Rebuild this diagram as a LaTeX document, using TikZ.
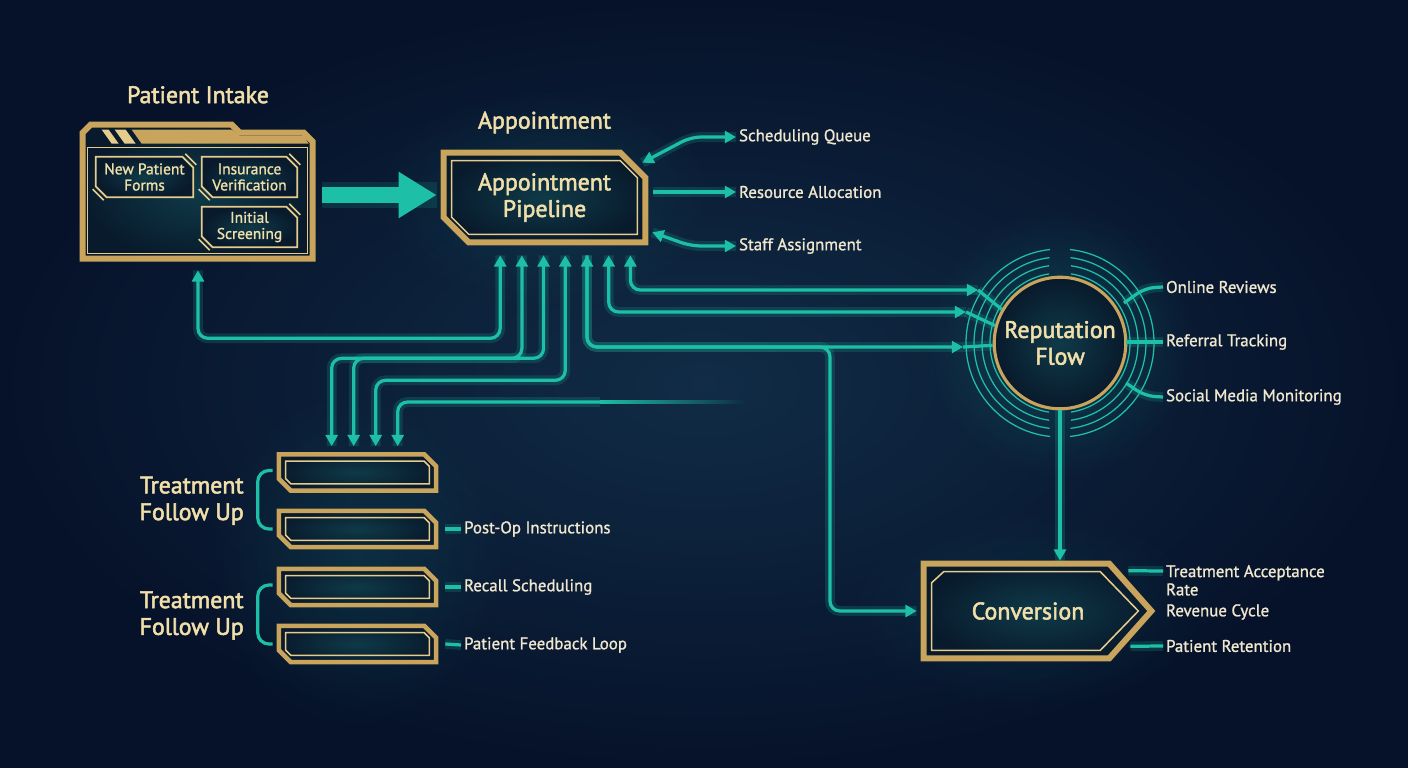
\documentclass[tikz,border=0pt]{standalone}
\usepackage{fontspec}
\setmainfont{PT Sans}
\newfontfamily\headfont{PT Sans}[FakeBold=2.2]
\newfontfamily\labelfont{PT Sans}[FakeBold=1.2]
\usetikzlibrary{positioning,calc,arrows.meta,backgrounds,fadings}

\definecolor{bgin}{HTML}{112C46}
\definecolor{bgout}{HTML}{06122A}
\definecolor{wireteal}{HTML}{1DBFA6}
\definecolor{gold}{HTML}{C9A45C}
\definecolor{goldlt}{HTML}{E6CC8C}
\definecolor{panelin}{HTML}{0F3A48}
\definecolor{panelout}{HTML}{081A2C}
\definecolor{cream}{HTML}{F1DFAA}
\definecolor{labelc}{HTML}{F0E7CF}

\tikzfading[name=glowfade, inner color=transparent!0, outer color=transparent!100]

% chamfered outline round a node: node, chamfer, inset (px)
\newcommand{\chamferpath}[3]{([shift={(#3,#3)}]#1.north west) -- ([shift={(-#2,#3)}]#1.north east) -- ([shift={(-#3,#2)}]#1.north east) -- ([shift={(-#3,-#3)}]#1.south east) -- ([shift={(#2,-#3)}]#1.south west) -- ([shift={(#3,-#2)}]#1.south west) -- cycle}
% gold double frame: node, chamfer, frame width, inner inset (px)
\newcommand{\goldbox}[4]{%
  \shade[panel] \chamferpath{#1}{#2}{0};
  \draw[goldline, line width=#3*0.7113pt] \chamferpath{#1}{#2}{#3/2};
  \draw[goldthin] \chamferpath{#1}{#2}{#4};
}

\tikzset{
  wire/.style    ={draw=wireteal, line width=2.3pt, rounded corners=7pt,
                   preaction={draw=wireteal, line width=7pt, opacity=0.18, arrows=-}},
  fadewire/.style={draw=wireteal, line width=2.3pt},
  bigarrow/.style={draw=wireteal, line width=11pt, -{Triangle[length=27pt,width=31pt]},
                   preaction={draw=wireteal, line width=18pt, opacity=0.15, arrows=-}},
  bracket/.style ={draw=wireteal, line width=2.3pt, rounded corners=8pt},
  ring/.style    ={draw=wireteal, line width=0.9pt},
  goldline/.style={draw=gold},
  goldthin/.style={draw=goldlt, line width=1.1pt},
  panel/.style   ={inner color=panelin, outer color=panelout},
  panelnode/.style={rectangle, inner sep=0pt, align=center, text=cream, font=\headfont\fontsize{17}{19}\selectfont},
  smallnode/.style={rectangle, inner sep=0pt, align=center, text=cream, font=\labelfont\fontsize{11}{11.5}\selectfont},
  ttl/.style     ={text=cream, inner sep=0pt, font=\headfont\fontsize{17}{19}\selectfont},
  lbl/.style     ={text=labelc, anchor=west, inner sep=2pt, align=left, font=\labelfont\fontsize{12}{13}\selectfont},
  repnode/.style ={circle, draw=gold, line width=2.2pt, inner color=panelin, outer color=panelout,
                   minimum size=3cm, align=center, text=cream, font=\headfont\fontsize{17}{19}\selectfont},
}

\begin{document}
\begin{tikzpicture}[x=0.025cm, y=-0.025cm, >={Triangle[length=8pt,width=8.5pt]}]
\useasboundingbox (0,0) rectangle (1408,768);

% boxes
\node[panelnode, minimum width=5.9cm, minimum height=3.5cm] (intake) at (198,192) {};
\node[smallnode, minimum width=2.425cm, minimum height=1cm] (npf) at (144.5,177) {New Patient\\Forms};
\node[smallnode, minimum width=2.375cm, minimum height=1cm] (insv) at (249.5,177) {Insurance\\Verification};
\node[smallnode, minimum width=2.375cm, minimum height=1cm] (iscr) at (249.5,227) {Initial\\Screening};
\node[ttl, above=0.45cm of intake] (intaketl) {Patient Intake};

\node[panelnode, minimum width=5.175cm, minimum height=2.375cm] (appt) at (544.5,197.5) {Appointment\\Pipeline};
\node[ttl, above=0.4cm of appt] (appttl) {Appointment};
\node[lbl] (sq) at (736,137) {Scheduling Queue};
\node[lbl] (ra) at (736,192) {Resource Allocation};
\node[lbl] (sa) at (736,246) {Staff Assignment};

\node[repnode] (rep) at (1060,343) {Reputation\\Flow};
\node[lbl] (orv) at (1163,287) {Online Reviews};
\node[lbl] (rft) at (1163,342) {Referral Tracking};
\node[lbl] (smm) at (1163,397) {Social Media Monitoring};

\node[panelnode, minimum width=5.35cm, minimum height=2.5cm] (conv) at (1028,611) {Conversion};
\node[lbl, anchor=north west] (tar) at (1163,562) {Treatment Acceptance\\Rate};
\node[lbl] (rvc) at (1163,612) {Revenue Cycle};
\node[lbl] (ptr) at (1163,646) {Patient Retention};

\foreach \i/\y in {1/472.5,2/529,3/587,4/644}
  \node[panelnode, minimum width=4.025cm, minimum height=1cm] (tb\i) at (357.5,\y) {};
\node[panelnode] (tfu1) at ($(tb1.west)!.5!(tb2.west)+(-85,0)$) {Treatment\\Follow Up};
\node[panelnode] (tfu2) at ($(tb3.west)!.5!(tb4.west)+(-85,0)$) {Treatment\\Follow Up};
\node[lbl] (poi) at (461,529) {Post-Op Instructions};
\node[lbl] (rcs) at (461,587) {Recall Scheduling};
\node[lbl] (pfl) at (461,645) {Patient Feedback Loop};

% ports
\foreach \i in {1,...,7} \coordinate (p\i) at ($(appt.south west)+({37.8+\i*21.7},10)$);
\foreach \i in {1,...,4} \coordinate (t\i) at ($(tb1.north west)+({33+\i*22},-6)$);
\coordinate (ip) at ($(intake.south)+(0,8)$);
\coordinate (rin1) at ($(rep.center)+(-82,-53)$);
\coordinate (rin2) at ($(rep.center)+(-94,-31)$);
\coordinate (rin3) at ($(rep.center)+(-97,4)$);
\coordinate (br) at (830,347);
\coordinate (fademid) at (600,402);
\coordinate (fadeend) at (745,402);

% connectors
\draw[bigarrow] ($(intake.east)+(6,3)$) -- ($(appt.west |- intake.east)+(-4,3)$);
\draw[wire,<->] (ip) -- ++(0,68) -| (p1);
\draw[wire,<->] (p2) -- ++(0,103) -| (t1);
\draw[wire,<->] (p3) -- ++(0,103) -| (t2);
\draw[wire,<->] (p4) -- ++(0,125) -| (t3);
\draw[wire,<-] (t4) |- (fademid);
\draw[fadewire, path fading=east] (fademid) -- (fadeend);
\draw[wire,->] (p5) |- (br) -- (br |- conv.west) -- ([shift={(-4,0)}]conv.west);
\draw[wire,<->] (p5) |- (rin3);
\draw[wire,<->] (p6) |- (rin2);
\draw[wire,<->] (p7) |- (rin1);
\draw[wire] (rin1) -- (rep.150);
\draw[wire] (rin2) -- (rep.165);
\draw[wire] (rin3) -- (rep.182);

\draw[wire,<->] ([shift={(-6,13)}]appt.north east) -- ($(sq.west)+(-45,0)$) -- (sq.west);
\draw[wire,->] ($(appt.east |- ra.west)+(5,0)$) -- (ra.west);
\draw[wire,<->] ([shift={(4,-13)}]appt.south east) -- ($(sa.west)+(-45,0)$) -- (sa.west);

\draw[wire] ($(rep.center)+(64,-40)$) -- ($(orv.west)+(-18,1)$) -- (orv.west);
\draw[wire] ($(rep.center)+(66,-1)$) -- (rft.west);
\draw[wire] ($(rep.center)+(66,40)$) -- ($(smm.west)+(-18,-1)$) -- (smm.west);
\draw[wire,->] (rep.south) -- (rep.south |- conv.north);

\draw[wire] ($(conv.north east)+(-7,10)$) -- ($(tar.north west)+(0,9)$);
\draw[wire] ($(conv.south east)+(-5,-15)$) -- (ptr.west);

\draw[wire] ($(tb2.east)+(7,0)$) -- (poi.west);
\draw[wire] ($(tb3.east)+(7,0)$) -- (rcs.west);
\draw[wire] ($(tb4.east)+(7,0)$) -- (pfl.west);
\draw[bracket] ($(tb1.west)+(-4,-2)$) -| ($(tb1.west)!.5!(tb2.west)+(-19,0)$) |- ($(tb2.west)+(-4,0)$);
\draw[bracket] ($(tb3.west)+(-4,-2)$) -| ($(tb3.west)!.5!(tb4.west)+(-19,0)$) |- ($(tb4.west)+(-4,0)$);

\begin{scope}[on background layer]
\shade[inner color=bgin, outer color=bgout] (0,0) rectangle (1408,768);
\fill[wireteal, opacity=0.22, path fading=glowfade] (rep.center) circle[radius=135];
\fill[wireteal, opacity=0.12, path fading=glowfade] (357,560) ellipse[x radius=150, y radius=170];
\fill[wireteal, opacity=0.12, path fading=glowfade] (appt.center) ellipse[x radius=170, y radius=110];
\fill[wireteal, opacity=0.10, path fading=glowfade] (conv.center) ellipse[x radius=180, y radius=100];
% rings
\foreach \r/\g in {70/9,78/8,86/7,94/6} {
  \pgfmathsetmacro\sa{-90+\g}
  \pgfmathsetmacro\sb{90+\g}
  \draw[ring] (rep.center) ++(\sa:\r) arc[start angle=\sa, delta angle=180-2*\g, radius=\r];
  \draw[ring] (rep.center) ++(\sb:\r) arc[start angle=\sb, delta angle=180-2*\g, radius=\r];
}
% intake folder
\begin{scope}[shift={(intake.north west)}]
  \shade[panel] (0,10) -- (10,0) -- (153,0) -- (161,8) -- (225,8) -- (236,19) -- (236,140) -- (0,140) -- cycle;
  \draw[goldline, line width=4.3pt] (3,11) -- (11,3) -- (152,3) -- (160,11) -- (224,11) -- (233,20) -- (233,137) -- (3,137) -- cycle;
  \fill[gold] (52,8) -- (152,8) -- (160,14) -- (224,14) -- (229,22) -- (62,22) -- cycle;
  \fill[goldlt] (22,8) -- (29,8) -- (39,22) -- (32,22) -- cycle;
  \fill[goldlt] (35,8) -- (46,8) -- (56,22) -- (45,22) -- cycle;
  \draw[goldthin] (8,26) rectangle (228,132);
\end{scope}
\foreach \b in {npf,insv,iscr} {
  \shade[panel] \chamferpath{\b}{11}{0};
  \draw[goldthin, line width=1.3pt] \chamferpath{\b}{11}{0};
  \draw[goldthin] ([shift={(-8,-3)}]\b.north east) -- ([shift={(3,8)}]\b.north east);
  \draw[goldthin] ([shift={(8,3)}]\b.south west) -- ([shift={(-3,-8)}]\b.south west);
}
% appointment and treatment bars
\goldbox{appt}{28}{6}{11}
\foreach \i in {1,...,4} {\goldbox{tb\i}{14}{4.5}{9}}
% conversion
\shade[panel] (conv.north west) -- ([shift={(-25,0)}]conv.north east) -- ([shift={(20,0)}]conv.east) -- ([shift={(-25,0)}]conv.south east) -- (conv.south west) -- cycle;
\draw[goldline, line width=4.3pt] ([shift={(3,3)}]conv.north west) -- ([shift={(-26,3)}]conv.north east) -- ([shift={(16,0)}]conv.east) -- ([shift={(-26,-3)}]conv.south east) -- ([shift={(3,-3)}]conv.south west) -- cycle;
\draw[goldthin] ([shift={(11,22)}]conv.north west) -- ([shift={(23,11)}]conv.north west) -- ([shift={(-35,11)}]conv.north east) -- ([shift={(3,0)}]conv.east) -- ([shift={(-35,-11)}]conv.south east) -- ([shift={(11,-11)}]conv.south west) -- cycle;
\end{scope}
\end{tikzpicture}
\end{document}
